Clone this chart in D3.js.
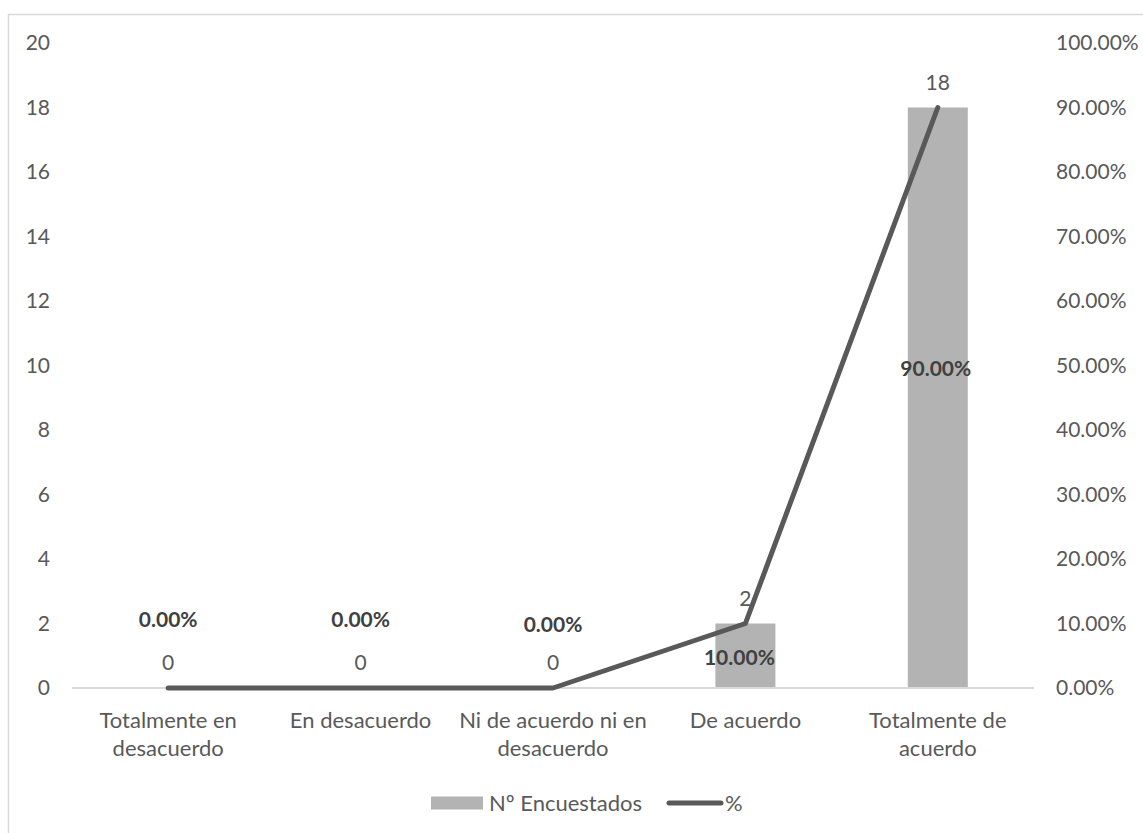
<!DOCTYPE html>
<html>
<head>
<meta charset="utf-8">
<script src="https://cdn.jsdelivr.net/npm/d3@7"></script>
<style>
  html, body { margin: 0; padding: 0; background: #fff; }
  svg { display: block; font-family: Lato, "Open Sans", sans-serif; }
</style>
</head>
<body>
<svg id="chart" width="1143" height="833"></svg>
<script>
// Survey answers
const categories = [
  ["Totalmente en", "desacuerdo"],
  ["En desacuerdo"],
  ["Ni de acuerdo ni en", "desacuerdo"],
  ["De acuerdo"],
  ["Totalmente de", "acuerdo"]
];
const respondents = [0, 0, 0, 2, 18];
const percents = [0, 0, 0, 0.10, 0.90];
const leftTicks = [0, 2, 4, 6, 8, 10, 12, 14, 16, 18, 20];
const rightTicks = [0, 0.1, 0.2, 0.3, 0.4, 0.5, 0.6, 0.7, 0.8, 0.9, 1.0];
const seriesNames = ["Nº Encuestados", "%"];

// Placement of the percentage labels relative to their points
const pctLabelDx = [0, 0, 0, -6, -2];
const pctLabelDy = [-68, -68, -63, 34, 261];

const svg = d3.select("#chart");
const textColor = "#595959";
const barColor = "#b3b3b3";
const lineColor = "#595959";
const gridColor = "#d9d9d9";
const numSize = 21;
const textSize = 22;

// Outer chart frame
svg.append("rect")
  .attr("x", 8.5).attr("y", 14.5)
  .attr("width", 1200).attr("height", 900)
  .attr("fill", "none").attr("stroke", gridColor).attr("stroke-width", 1.5);

const plot = { left: 72, right: 1034, top: 43, bottom: 688 };

const x = d3.scaleBand()
  .domain(d3.range(categories.length))
  .range([plot.left, plot.right])
  .padding(0);

const yLeft = d3.scaleLinear().domain([0, 20]).range([plot.bottom, plot.top]);
const yRight = d3.scaleLinear().domain([0, 1]).range([plot.bottom, plot.top]);

const cx = i => x(i) + x.bandwidth() / 2;

// Left axis labels
svg.append("g")
  .attr("transform", `translate(${plot.left - 22},0)`)
  .call(d3.axisLeft(yLeft).tickValues(leftTicks).tickSize(0).tickPadding(0).tickFormat(d3.format("d")))
  .call(g => g.select(".domain").remove())
  .call(g => g.selectAll("text")
    .attr("fill", textColor).attr("font-size", numSize).attr("font-family", "Lato, sans-serif"));

// Right axis labels
svg.append("g")
  .attr("transform", `translate(${plot.right + 22},0)`)
  .call(d3.axisRight(yRight).tickValues(rightTicks).tickSize(0).tickPadding(0).tickFormat(d3.format(".2%")))
  .call(g => g.select(".domain").remove())
  .call(g => g.selectAll("text")
    .attr("fill", textColor).attr("font-size", numSize).attr("font-family", "Lato, sans-serif"));

// Bars
const barW = 60;
svg.append("g").selectAll("rect")
  .data(respondents)
  .join("rect")
  .attr("x", (d, i) => cx(i) - barW / 2)
  .attr("y", d => yLeft(d))
  .attr("width", barW)
  .attr("height", d => plot.bottom - yLeft(d))
  .attr("fill", barColor);

// Category axis line
svg.append("line")
  .attr("x1", plot.left).attr("x2", plot.right)
  .attr("y1", plot.bottom).attr("y2", plot.bottom)
  .attr("stroke", gridColor).attr("stroke-width", 2);

// Percentage line
const line = d3.line()
  .x((d, i) => cx(i))
  .y(d => yRight(d));
svg.append("path")
  .datum(percents)
  .attr("d", line)
  .attr("fill", "none")
  .attr("stroke", lineColor)
  .attr("stroke-width", 5)
  .attr("stroke-linejoin", "round")
  .attr("stroke-linecap", "round");

// Respondent count labels
svg.append("g").selectAll("text")
  .data(respondents)
  .join("text")
  .attr("x", (d, i) => cx(i))
  .attr("y", d => yLeft(d) - 25)
  .attr("dy", "0.35em")
  .attr("text-anchor", "middle")
  .attr("font-size", numSize)
  .attr("fill", textColor)
  .text(d => d);

// Percentage labels
svg.append("g").selectAll("text")
  .data(percents)
  .join("text")
  .attr("x", (d, i) => cx(i) + pctLabelDx[i])
  .attr("y", (d, i) => yRight(d) + pctLabelDy[i])
  .attr("dy", "0.35em")
  .attr("text-anchor", "middle")
  .attr("font-size", numSize)
  .attr("font-weight", "bold")
  .attr("fill", "#404040")
  .text(d => d3.format(".2%")(d));

// Category labels
const catG = svg.append("g");
categories.forEach((lines, i) => {
  const t = catG.append("text")
    .attr("x", cx(i))
    .attr("y", 720)
    .attr("text-anchor", "middle")
    .attr("font-size", textSize)
    .attr("fill", textColor);
  lines.forEach((s, j) => {
    t.append("tspan").attr("x", cx(i)).attr("dy", j === 0 ? "0.35em" : 28).text(s);
  });
});

// Legend
const legend = svg.append("g").attr("transform", "translate(0,803)");
legend.append("rect")
  .attr("x", 431).attr("y", -6.5).attr("width", 52).attr("height", 13)
  .attr("fill", barColor);
legend.append("text")
  .attr("x", 489).attr("y", 0).attr("dy", "0.35em")
  .attr("font-size", textSize).attr("fill", textColor)
  .text(seriesNames[0]);
legend.append("line")
  .attr("x1", 669).attr("x2", 721).attr("y1", 0).attr("y2", 0)
  .attr("stroke", lineColor).attr("stroke-width", 5).attr("stroke-linecap", "round");
legend.append("text")
  .attr("x", 725).attr("y", 0).attr("dy", "0.35em")
  .attr("font-size", textSize).attr("fill", textColor)
  .text(seriesNames[1]);
</script>
</body>
</html>
